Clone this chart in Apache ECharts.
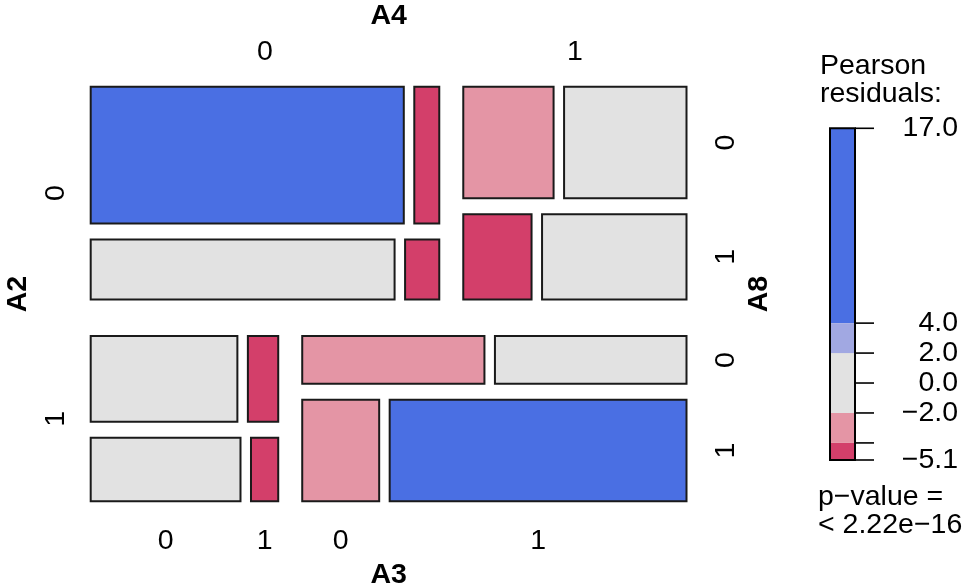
<!DOCTYPE html>
<html><head><meta charset="utf-8">
<script src="https://cdn.jsdelivr.net/npm/echarts@6/dist/echarts.min.js"></script>
<style>html,body{margin:0;padding:0;background:#fff}#c{width:971px;height:588px}</style>
</head><body><div id="c"></div>
<script>
// ---- data (frequencies) ----
const varNames = ['A2', 'A4', 'A8', 'A3'];
const A2_levels = ['0', '1'];
const A4_levels = ['0', '1'];
const A8_levels = ['0', '1'];
const A3_levels = ['0', '1'];
// counts[A4][A8][A3] for each level of A2
const counts_A2_0 = [[[188, 15], [80, 9]], [[45, 61], [26, 55]]];
const counts_A2_1 = [[[58, 12], [44, 8]], [[39, 41], [35, 135]]];
const shadeBreaks = [-4, -2, 2, 4];
const pValueText = '< 2.22e\u221216';

// ---- styling constants ----
const FONT = '"Liberation Sans", Arial, Helvetica, sans-serif';
const FS = 28.5;
const PLOT = {left: 90.7, top: 86.7, width: 595.8, height: 414.6};
const GAP = [36.7, 24, 16, 10.5]; // spacing per split level (px)
const COLORS = {dRed: '#D33F6A', lRed: '#E495A5', gray: '#E2E2E2', lBlue: '#A1A8E2', blue: '#4A6FE3'};

const counts = [counts_A2_0, counts_A2_1];
const W = PLOT.width, H = PLOT.height;

// ---- Pearson residuals under mutual independence ----
const N = counts.flat(3).reduce((a, b) => a + b, 0);
const m = [[0, 0], [0, 0], [0, 0], [0, 0]];
for (let i = 0; i < 2; i++) for (let j = 0; j < 2; j++) for (let k = 0; k < 2; k++) for (let l = 0; l < 2; l++) {
  const v = counts[i][j][k][l];
  m[0][i] += v; m[1][j] += v; m[2][k] += v; m[3][l] += v;
}
function resid(i, j, k, l) {
  const e = N * (m[0][i] / N) * (m[1][j] / N) * (m[2][k] / N) * (m[3][l] / N);
  return (counts[i][j][k][l] - e) / Math.sqrt(e);
}
function shade(r) {
  if (r > shadeBreaks[3]) return COLORS.blue;
  if (r > shadeBreaks[2]) return COLORS.lBlue;
  if (r >= shadeBreaks[1]) return COLORS.gray;
  if (r >= shadeBreaks[0]) return COLORS.lRed;
  return COLORS.dRed;
}

// ---- mosaic layout (A2 vertical, A4 horizontal, A8 vertical, A3 horizontal) ----
const tiles = [];
const rowBox = [], colBoxTop = [], rightBox = [], bottomBox = [];
let rMin = Infinity, rMax = -Infinity;
{
  let y = 0;
  const availH = H - GAP[0] * (A2_levels.length - 1);
  for (let i = 0; i < 2; i++) {
    const ni = m[0][i];
    const hi = availH * ni / N;
    rowBox.push([y, y + hi]);
    let x = 0;
    const availW = W - GAP[1];
    for (let j = 0; j < 2; j++) {
      const nij = counts[i][j].flat().reduce((a, b) => a + b, 0);
      const wij = availW * nij / ni;
      if (i === 0) colBoxTop.push([x, x + wij]);
      let yy = y;
      const availH3 = hi - GAP[2];
      for (let k = 0; k < 2; k++) {
        const nijk = counts[i][j][k][0] + counts[i][j][k][1];
        const hk = availH3 * nijk / nij;
        if (j === 1) rightBox.push([yy, yy + hk]);
        let xx = x;
        const availW4 = wij - GAP[3];
        for (let l = 0; l < 2; l++) {
          const w = availW4 * counts[i][j][k][l] / nijk;
          const r = resid(i, j, k, l);
          rMin = Math.min(rMin, r); rMax = Math.max(rMax, r);
          tiles.push([xx, yy, xx + w, yy + hk, r]);
          if (i === 1 && k === 1) bottomBox.push([xx, xx + w]);
          xx += w + GAP[3];
        }
        yy += hk + GAP[2];
      }
      x += wij + GAP[1];
    }
    y += hi + GAP[0];
  }
}

// ---- labels (in plot data units) ----
const labels = [];
colBoxTop.forEach((b, j) => labels.push({x: (b[0] + b[1]) / 2, y: -34.2, t: A4_levels[j], rot: 0, bold: false}));
labels.push({x: W / 2, y: -70.2, t: varNames[1], rot: 0, bold: true});
rowBox.forEach((b, i) => labels.push({x: -34.7, y: (b[0] + b[1]) / 2, t: A2_levels[i], rot: Math.PI / 2, bold: false}));
labels.push({x: -72.7, y: H / 2, t: varNames[0], rot: Math.PI / 2, bold: true});
rightBox.forEach((b, k) => labels.push({x: W + 39.5, y: (b[0] + b[1]) / 2, t: A8_levels[k % 2], rot: Math.PI / 2, bold: false}));
labels.push({x: W + 72.5, y: H / 2, t: varNames[2], rot: Math.PI / 2, bold: true});
bottomBox.forEach((b, l) => labels.push({x: (b[0] + b[1]) / 2, y: H + 39.7, t: A3_levels[l % 2], rot: 0, bold: false}));
labels.push({x: W / 2, y: H + 73.7, t: varNames[3], rot: 0, bold: true});

// ---- legend bands and ticks ----
const bandEdges = [rMin, ...shadeBreaks, rMax];
const bands = [];
for (let b = 0; b < bandEdges.length - 1; b++) bands.push([0, bandEdges[b], 1, bandEdges[b + 1], (bandEdges[b] + bandEdges[b + 1]) / 2]);
const tickValues = [rMin, -4, -2, 0, 2, 4, rMax];
const labelValues = [rMin, -2, 0, 2, 4, rMax];
const fmt = v => v.toFixed(1).replace('-', '\u2212');

const chart = echarts.init(document.getElementById('c'), null, {renderer: 'canvas'});
chart.setOption({
  animation: false,
  grid: [
    {left: PLOT.left, top: PLOT.top, width: PLOT.width, height: PLOT.height},
    {left: 830, top: 128.3, width: 25, height: 331.7}
  ],
  xAxis: [
    {type: 'value', min: 0, max: W, show: false, gridIndex: 0},
    {type: 'value', min: 0, max: 1, show: false, gridIndex: 1}
  ],
  yAxis: [
    {type: 'value', min: 0, max: H, inverse: true, show: false, gridIndex: 0},
    {type: 'value', min: rMin, max: rMax, gridIndex: 1, position: 'right',
      axisLine: {show: false}, splitLine: {show: false}, axisTick: {show: false},
      axisLabel: {show: true, customValues: labelValues, formatter: fmt, align: 'right', margin: 103,
        fontFamily: FONT, fontSize: FS, color: '#000', padding: [6, 0, 0, 0]}}
  ],
  series: [
    {
      type: 'custom', xAxisIndex: 0, yAxisIndex: 0, data: tiles,
      encode: {x: [0, 2], y: [1, 3]},
      renderItem(params, api) {
        const p0 = api.coord([api.value(0), api.value(1)]);
        const p1 = api.coord([api.value(2), api.value(3)]);
        return {type: 'rect', shape: {x: p0[0], y: p0[1], width: p1[0] - p0[0], height: p1[1] - p0[1]},
          style: {fill: shade(api.value(4)), stroke: '#1a1a1a', lineWidth: 2}};
      }
    },
    {
      type: 'custom', xAxisIndex: 0, yAxisIndex: 0, data: labels.map(d => [d.x, d.y]),
      renderItem(params, api) {
        const d = labels[params.dataIndex];
        const p = api.coord([api.value(0), api.value(1)]);
        return {type: 'text', x: p[0], y: p[1], rotation: d.rot,
          style: {text: d.t, fill: '#000', font: (d.bold ? 'bold ' : '') + FS + 'px ' + FONT, align: 'center', verticalAlign: 'middle'}};
      }
    },
    {
      type: 'custom', xAxisIndex: 1, yAxisIndex: 1, data: bands,
      encode: {x: [0, 2], y: [1, 3]},
      renderItem(params, api) {
        const p0 = api.coord([api.value(0), api.value(3)]);
        const p1 = api.coord([api.value(2), api.value(1)]);
        return {type: 'rect', shape: {x: p0[0], y: p0[1], width: p1[0] - p0[0], height: p1[1] - p0[1]},
          style: {fill: shade(api.value(4)), stroke: null}};
      }
    },
    {
      type: 'custom', xAxisIndex: 1, yAxisIndex: 1, data: tickValues.map(v => [1, v]),
      encode: {x: 0, y: 1},
      renderItem(params, api) {
        const p = api.coord([api.value(0), api.value(1)]);
        return {type: 'line', shape: {x1: p[0], y1: p[1], x2: p[0] + 19, y2: p[1]},
          style: {stroke: '#000', lineWidth: 1.6}};
      }
    },
    {
      type: 'custom', xAxisIndex: 1, yAxisIndex: 1, data: [[0, rMin, 1, rMax]],
      encode: {x: [0, 2], y: [1, 3]},
      renderItem(params, api) {
        const p0 = api.coord([api.value(0), api.value(3)]);
        const p1 = api.coord([api.value(2), api.value(1)]);
        return {type: 'rect', shape: {x: p0[0], y: p0[1], width: p1[0] - p0[0], height: p1[1] - p0[1]},
          style: {fill: null, stroke: '#000', lineWidth: 2}};
      }
    }
  ],
  graphic: [
    {type: 'text', left: 820, top: 52, style: {text: 'Pearson\nresiduals:', font: FS + 'px ' + FONT, fill: '#000', lineHeight: 28}},
    {type: 'text', left: 818, top: 483, style: {text: 'p\u2212value =\n' + pValueText, font: FS + 'px ' + FONT, fill: '#000', lineHeight: 28}}
  ]
});
</script></body></html>
